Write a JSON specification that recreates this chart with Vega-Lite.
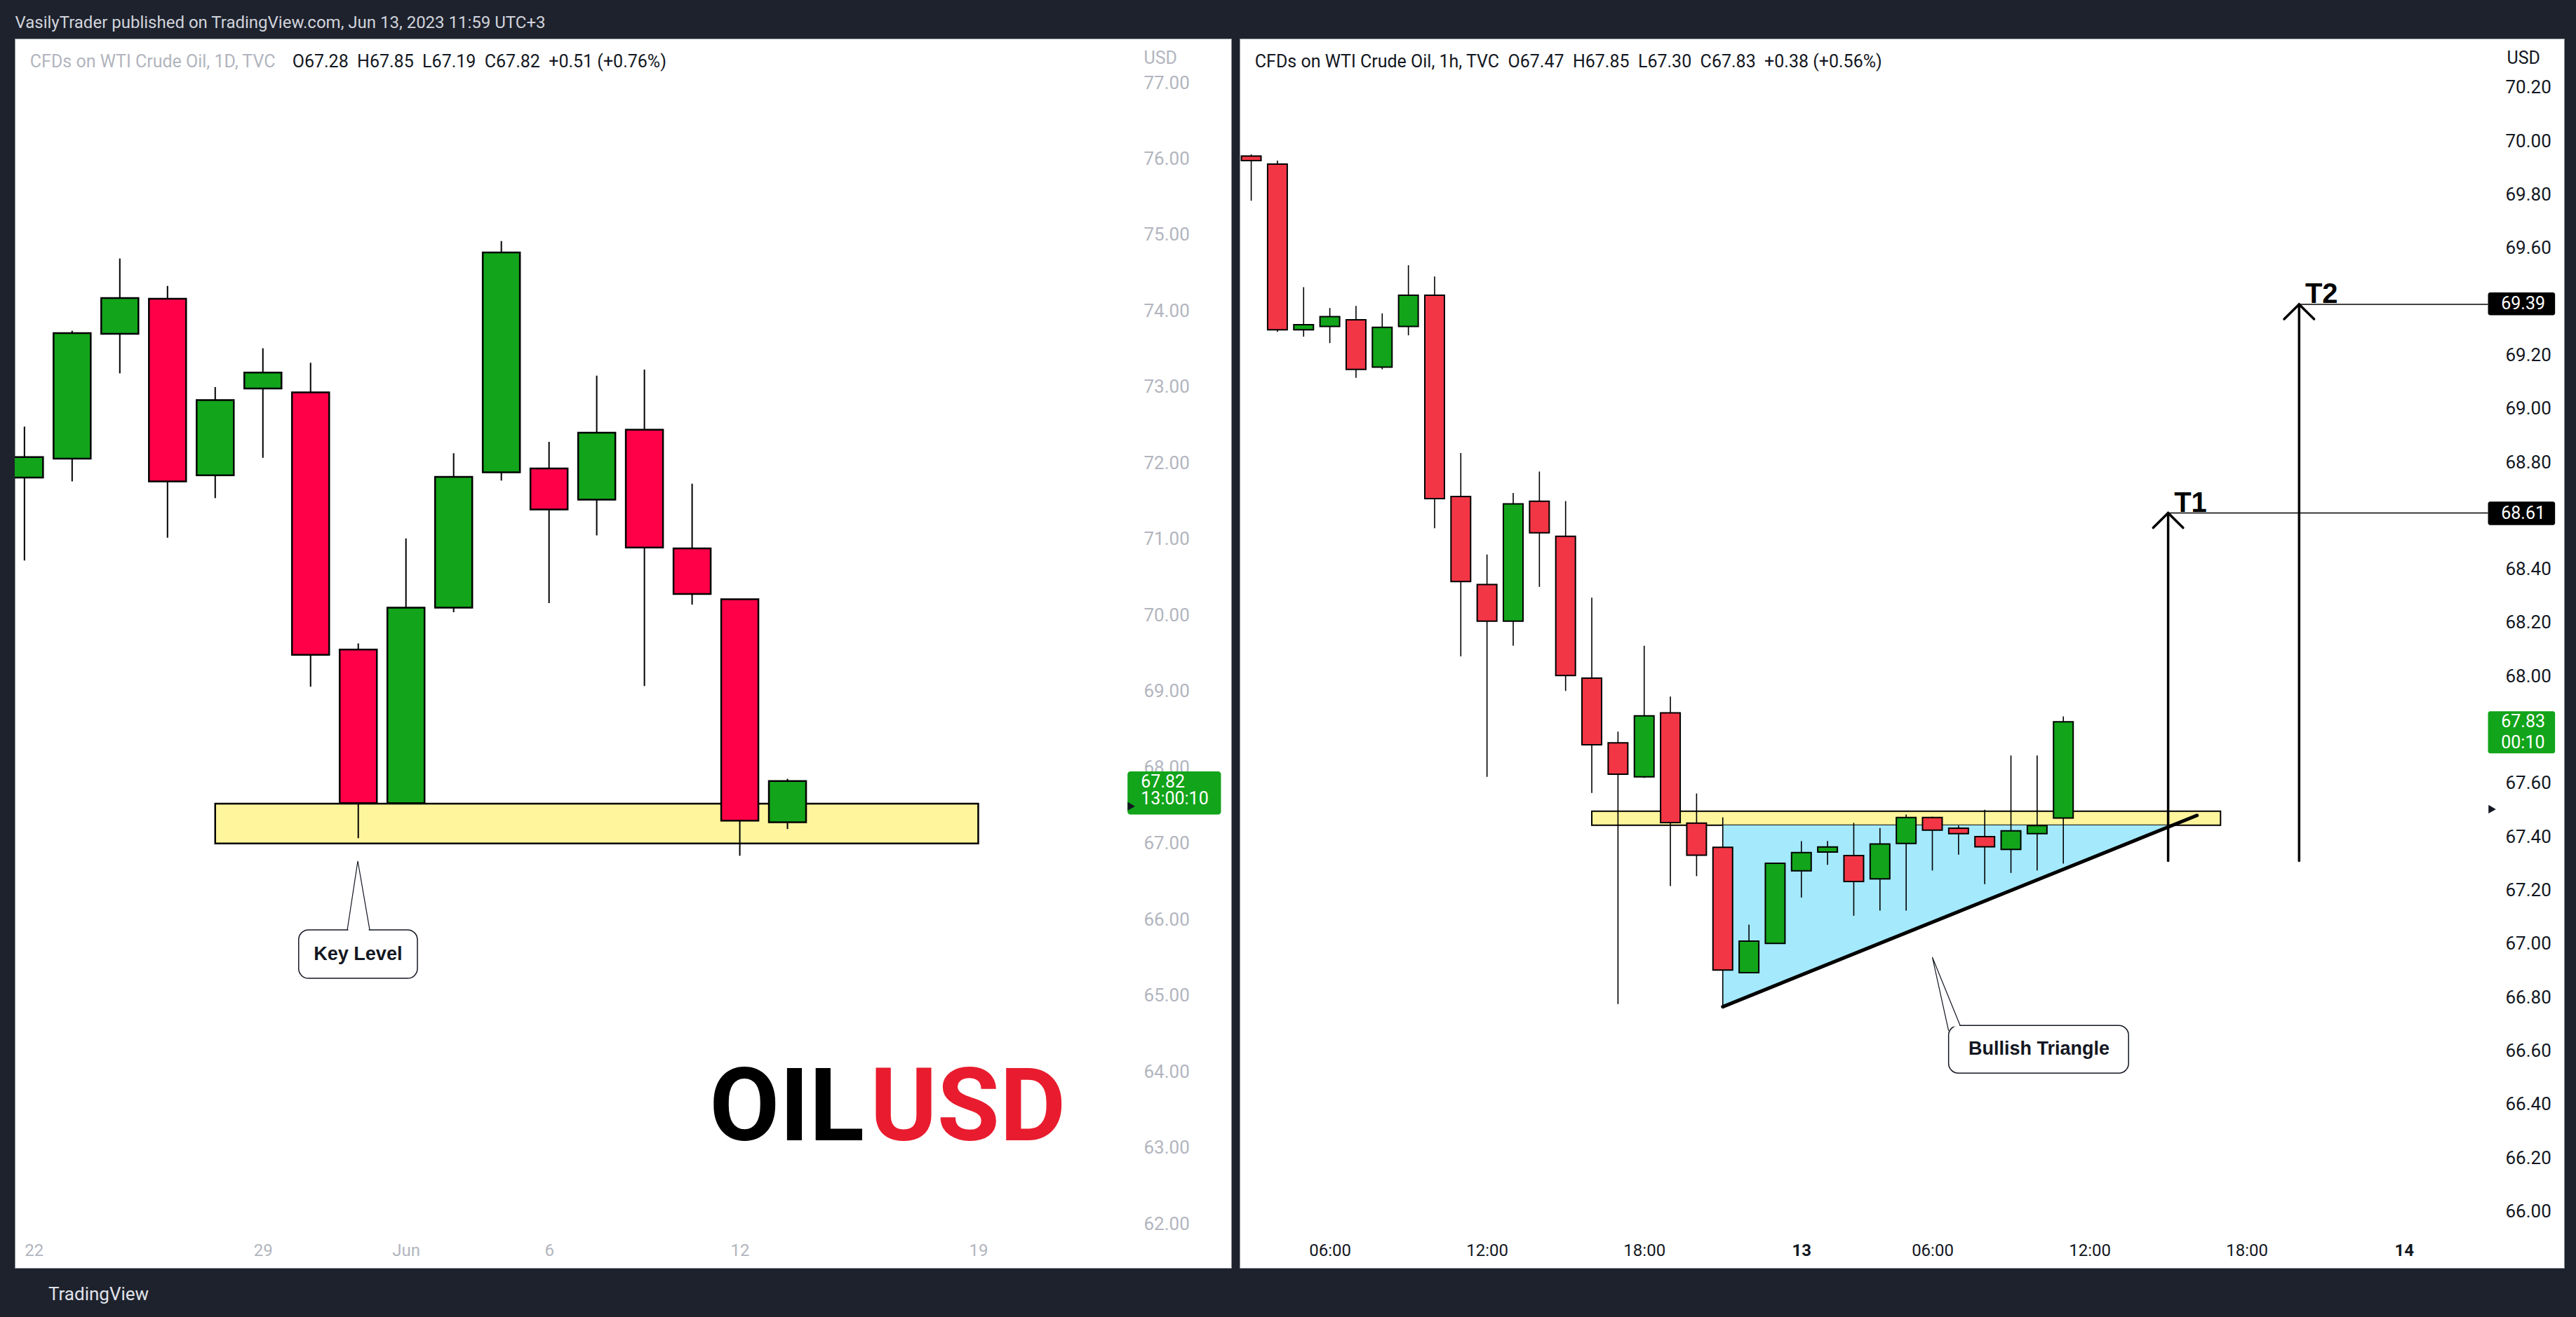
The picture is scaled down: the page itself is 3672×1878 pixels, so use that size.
{
"$schema":"https://vega.github.io/schema/vega-lite/v6.json",
"background":"#1e222d",
"padding":{"left":20,"top":20,"right":20,"bottom":20},
"spacing":10,
"title":{"text":"VasilyTrader published on TradingView.com, Jun 13, 2023 11:59 UTC+3","anchor":"start","frame":"bounds","offset":10,"fontSize":24,"fontWeight":"normal","color":"#d1d4dc","font":"Roboto","dx":1},
"config":{"view":{"fill":"#ffffff","stroke":"#8c8f99","strokeWidth":1},"axis":{"labelFont":"Roboto","titleFont":"Roboto","domain":false,"ticks":false,"tickSize":0,"grid":false,"labelPadding":0,"labelOverlap":false,"labelFlush":false},"text":{"font":"Roboto"}},
"datasets":{
"daily":[
{"i":0,"o":71.81,"h":72.48,"l":70.72,"c":72.08},
{"i":1,"o":72.06,"h":73.74,"l":71.76,"c":73.71},
{"i":2,"o":73.70,"h":74.69,"l":73.18,"c":74.17},
{"i":3,"o":74.16,"h":74.33,"l":71.02,"c":71.76},
{"i":4,"o":71.84,"h":73.00,"l":71.54,"c":72.83},
{"i":5,"o":72.98,"h":73.51,"l":72.07,"c":73.19},
{"i":6,"o":72.93,"h":73.32,"l":69.06,"c":69.48},
{"i":7,"o":69.55,"h":69.63,"l":67.07,"c":67.53},
{"i":8,"o":67.53,"h":71.01,"l":67.52,"c":70.10},
{"i":9,"o":70.10,"h":72.13,"l":70.04,"c":71.82},
{"i":10,"o":71.88,"h":74.92,"l":71.77,"c":74.77},
{"i":11,"o":71.93,"h":72.28,"l":70.16,"c":71.39},
{"i":12,"o":71.52,"h":73.15,"l":71.05,"c":72.40},
{"i":13,"o":72.44,"h":73.23,"l":69.07,"c":70.89},
{"i":14,"o":70.88,"h":71.73,"l":70.14,"c":70.28},
{"i":15,"o":70.21,"h":70.21,"l":66.84,"c":67.30},
{"i":16,"o":67.28,"h":67.85,"l":67.19,"c":67.82}
],
"hourly":[
{"i":0,"o":69.944,"h":69.95,"l":69.777,"c":69.927},
{"i":1,"o":69.914,"h":69.927,"l":69.287,"c":69.295},
{"i":2,"o":69.295,"h":69.454,"l":69.269,"c":69.314},
{"i":3,"o":69.307,"h":69.376,"l":69.245,"c":69.344},
{"i":4,"o":69.332,"h":69.384,"l":69.115,"c":69.147},
{"i":5,"o":69.155,"h":69.356,"l":69.147,"c":69.304},
{"i":6,"o":69.307,"h":69.536,"l":69.274,"c":69.424},
{"i":7,"o":69.424,"h":69.494,"l":68.553,"c":68.664},
{"i":8,"o":68.672,"h":68.834,"l":68.074,"c":68.354},
{"i":9,"o":68.343,"h":68.455,"l":67.624,"c":68.206},
{"i":10,"o":68.206,"h":68.685,"l":68.114,"c":68.644},
{"i":11,"o":68.654,"h":68.765,"l":68.334,"c":68.536},
{"i":12,"o":68.523,"h":68.655,"l":67.945,"c":68.003},
{"i":13,"o":67.993,"h":68.294,"l":67.564,"c":67.744},
{"i":14,"o":67.751,"h":67.793,"l":66.775,"c":67.634},
{"i":15,"o":67.624,"h":68.114,"l":67.62,"c":67.852},
{"i":16,"o":67.863,"h":67.924,"l":67.216,"c":67.453},
{"i":17,"o":67.451,"h":67.562,"l":67.253,"c":67.331},
{"i":18,"o":67.361,"h":67.473,"l":66.764,"c":66.902},
{"i":19,"o":66.892,"h":67.072,"l":66.89,"c":67.010},
{"i":20,"o":67.002,"h":67.301,"l":67.0,"c":67.301},
{"i":21,"o":67.273,"h":67.384,"l":67.173,"c":67.341},
{"i":22,"o":67.343,"h":67.384,"l":67.295,"c":67.362},
{"i":23,"o":67.330,"h":67.452,"l":67.105,"c":67.233},
{"i":24,"o":67.243,"h":67.433,"l":67.124,"c":67.373},
{"i":25,"o":67.375,"h":67.483,"l":67.124,"c":67.472},
{"i":26,"o":67.472,"h":67.475,"l":67.274,"c":67.425},
{"i":27,"o":67.432,"h":67.442,"l":67.333,"c":67.412},
{"i":28,"o":67.401,"h":67.501,"l":67.223,"c":67.363},
{"i":29,"o":67.353,"h":67.704,"l":67.265,"c":67.422},
{"i":30,"o":67.412,"h":67.704,"l":67.274,"c":67.442},
{"i":31,"o":67.47,"h":67.85,"l":67.30,"c":67.83}
]
},
"hconcat":[
{
"width":1734,"height":1753,
"title":{"text":"TradingView","orient":"bottom","anchor":"start","offset":25,"dx":48,"fontSize":26,"fontWeight":"normal","color":"#e0e3eb","font":"Roboto"},
"layer":[
{"data":{"values":[{"i0":4,"i1":20,"lo":67.0,"hi":67.524}]},
 "mark":{"type":"rect","fill":"#fff59d","stroke":"#000000","strokeWidth":2.5},
 "encoding":{
  "x":{"field":"i0","type":"quantitative","scale":{"domain":[-0.13,25.23],"nice":false,"zero":false},"title":null,
   "axis":{"orient":"bottom","offset":-25,"values":[0,5,8,11,15,20],"labelExpr":"datum.value==0?'22':datum.value==5?'29':datum.value==8?'Jun':datum.value==11?'6':datum.value==15?'12':'19'","labelColor":"#b2b5be","labelFontSize":24,"labelBaseline":"middle","labelAlign":{"condition":{"test":"datum.value==0","value":"left"},"value":"center"}}},
  "x2":{"field":"i1"},
  "y":{"field":"lo","type":"quantitative","scale":{"domain":[61.421,77.581],"nice":false,"zero":false},"title":"USD",
   "axis":{"orient":"right","offset":-125,"values":[62,63,64,65,66,67,68,69,70,71,72,73,74,75,76,77],"format":".2f","labelColor":"#b2b5be","labelFontSize":26,"labelAlign":"left","labelBaseline":"middle","titleAngle":0,"titleAlign":"left","titleBaseline":"alphabetic","titleX":0,"titleY":35,"titleColor":"#b2b5be","titleFontSize":25,"titleFontWeight":"normal"}},
  "y2":{"field":"hi"}}},
{"data":{"name":"daily"},
 "mark":{"type":"rule","stroke":"#000000","strokeWidth":2,"clip":true},
 "encoding":{"x":{"field":"i","type":"quantitative","scale":{"domain":[-0.13,25.23],"nice":false,"zero":false},"title":null},
  "y":{"field":"l","type":"quantitative","scale":{"domain":[61.421,77.581],"nice":false,"zero":false},"title":"USD"},
  "y2":{"field":"h"}}},
{"data":{"name":"daily"},
 "mark":{"type":"bar","width":53,"stroke":"#000000","strokeWidth":2.5,"clip":true},
 "encoding":{"x":{"field":"i","type":"quantitative","scale":{"domain":[-0.13,25.23],"nice":false,"zero":false},"title":null},
  "y":{"field":"o","type":"quantitative","scale":{"domain":[61.421,77.581],"nice":false,"zero":false},"title":"USD"},
  "y2":{"field":"c"},
  "fill":{"condition":{"test":"datum.c >= datum.o","value":"#12a41a"},"value":"#ff0048"}}},
{"data":{"values":[{"i0":5.75,"i1":8.24,"lo":65.228,"hi":65.864}]},
 "mark":{"type":"rect","fill":"#ffffff","stroke":"#131722","strokeWidth":1.5,"cornerRadius":14},
 "encoding":{"x":{"field":"i0","type":"quantitative","scale":{"domain":[-0.13,25.23],"nice":false,"zero":false},"title":null},"x2":{"field":"i1"},
  "y":{"field":"lo","type":"quantitative","scale":{"domain":[61.421,77.581],"nice":false,"zero":false},"title":"USD"},"y2":{"field":"hi"}}},
{"data":{"values":[{"i0":6.79,"i1":7.22,"p":65.864}]},
 "mark":{"type":"rule","stroke":"#ffffff","strokeWidth":3},
 "encoding":{"x":{"field":"i0","type":"quantitative","scale":{"domain":[-0.13,25.23],"nice":false,"zero":false},"title":null},"x2":{"field":"i1"},
  "y":{"field":"p","type":"quantitative","scale":{"domain":[61.421,77.581],"nice":false,"zero":false},"title":"USD"}}},
{"data":{"values":[{"k":0,"i":6.77,"p":65.864},{"k":1,"i":6.99,"p":66.77},{"k":2,"i":7.24,"p":65.864}]},
 "mark":{"type":"line","stroke":"#131722","strokeWidth":1.2},
 "encoding":{"x":{"field":"i","type":"quantitative","scale":{"domain":[-0.13,25.23],"nice":false,"zero":false},"title":null},
  "y":{"field":"p","type":"quantitative","scale":{"domain":[61.421,77.581],"nice":false,"zero":false},"title":"USD"},
  "order":{"field":"k"}}},
{"data":{"values":[{"i":6.995,"p":65.546,"t":"Key Level"}]},
 "mark":{"type":"text","font":"Liberation Sans","fontWeight":"bold","fontSize":27,"color":"#131722","align":"center","baseline":"middle"},
 "encoding":{"x":{"field":"i","type":"quantitative","scale":{"domain":[-0.13,25.23],"nice":false,"zero":false},"title":null},
  "y":{"field":"p","type":"quantitative","scale":{"domain":[61.421,77.581],"nice":false,"zero":false},"title":"USD"},
  "text":{"field":"t"}}},
{"data":{"values":[{"i":17.61,"p":63.1,"t":"OIL"}]},
 "mark":{"type":"text","font":"Roboto","fontWeight":"bold","fontSize":145,"color":"#000000","align":"right","baseline":"alphabetic"},
 "encoding":{"x":{"field":"i","type":"quantitative","scale":{"domain":[-0.13,25.23],"nice":false,"zero":false},"title":null},
  "y":{"field":"p","type":"quantitative","scale":{"domain":[61.421,77.581],"nice":false,"zero":false},"title":"USD"},
  "text":{"field":"t"}}},
{"data":{"values":[{"i":17.73,"p":63.1,"t":"USD"}]},
 "mark":{"type":"text","font":"Roboto","fontWeight":"bold","fontSize":145,"color":"#e81c2e","align":"left","baseline":"alphabetic"},
 "encoding":{"x":{"field":"i","type":"quantitative","scale":{"domain":[-0.13,25.23],"nice":false,"zero":false},"title":null},
  "y":{"field":"p","type":"quantitative","scale":{"domain":[61.421,77.581],"nice":false,"zero":false},"title":"USD"},
  "text":{"field":"t"}}},
{"data":{"values":[{"i":0.117,"p":77.203,"t":"CFDs on WTI Crude Oil, 1D, TVC"}]},
 "mark":{"type":"text","fontSize":25,"color":"#b2b5be","align":"left","baseline":"alphabetic"},
 "encoding":{"x":{"field":"i","type":"quantitative","scale":{"domain":[-0.13,25.23],"nice":false,"zero":false},"title":null},
  "y":{"field":"p","type":"quantitative","scale":{"domain":[61.421,77.581],"nice":false,"zero":false},"title":"USD"},
  "text":{"field":"t"}}},
{"data":{"values":[{"i":5.617,"p":77.203,"t":"O67.28\u00a0 H67.85\u00a0 L67.19\u00a0 C67.82\u00a0 +0.51 (+0.76%)"}]},
 "mark":{"type":"text","fontSize":25,"color":"#131722","align":"left","baseline":"alphabetic"},
 "encoding":{"x":{"field":"i","type":"quantitative","scale":{"domain":[-0.13,25.23],"nice":false,"zero":false},"title":null},
  "y":{"field":"p","type":"quantitative","scale":{"domain":[61.421,77.581],"nice":false,"zero":false},"title":"USD"},
  "text":{"field":"t"}}},
{"data":{"values":[{"i0":23.13,"i1":25.09,"lo":67.381,"hi":67.948}]},
 "mark":{"type":"rect","fill":"#12a41a","cornerRadius":4},
 "encoding":{"x":{"field":"i0","type":"quantitative","scale":{"domain":[-0.13,25.23],"nice":false,"zero":false},"title":null},"x2":{"field":"i1"},
  "y":{"field":"lo","type":"quantitative","scale":{"domain":[61.421,77.581],"nice":false,"zero":false},"title":"USD"},"y2":{"field":"hi"}}},
{"data":{"values":[{"i":23.41,"p":67.81,"t":"67.82"},{"i":23.41,"p":67.588,"t":"13:00:10"}]},
 "mark":{"type":"text","fontSize":25,"color":"#ffffff","align":"left","baseline":"middle"},
 "encoding":{"x":{"field":"i","type":"quantitative","scale":{"domain":[-0.13,25.23],"nice":false,"zero":false},"title":null},
  "y":{"field":"p","type":"quantitative","scale":{"domain":[61.421,77.581],"nice":false,"zero":false},"title":"USD"},
  "text":{"field":"t"}}},
{"data":{"values":[{"i":23.21,"p":67.49}]},
 "mark":{"type":"point","shape":"triangle-right","size":150,"filled":true,"color":"#131722","opacity":1},
 "encoding":{"x":{"field":"i","type":"quantitative","scale":{"domain":[-0.13,25.23],"nice":false,"zero":false},"title":null},
  "y":{"field":"p","type":"quantitative","scale":{"domain":[61.421,77.581],"nice":false,"zero":false},"title":"USD"}}}
]
},
{
"width":1888,"height":1753,
"layer":[
{"data":{"values":[{"i0":13,"i1":37,"lo":67.443,"hi":67.496}]},
 "mark":{"type":"rect","fill":"#fff59d","stroke":"#000000","strokeWidth":2},
 "encoding":{
  "x":{"field":"i0","type":"quantitative","scale":{"domain":[-0.31,49.98],"nice":false,"zero":false},"title":null,
   "axis":{"orient":"bottom","offset":-25,"values":[3,9,15,21,26,32,38,44],"labelExpr":"datum.value==21?'13':datum.value==44?'14':(datum.value==3||datum.value==26)?'06:00':(datum.value==9||datum.value==32)?'12:00':'18:00'","labelColor":"#131722","labelFontSize":24,"labelBaseline":"middle","labelFontWeight":{"condition":{"test":"datum.value==21||datum.value==44","value":"bold"},"value":"normal"}}},
  "x2":{"field":"i1"},
  "y":{"field":"lo","type":"quantitative","scale":{"domain":[65.789,70.383],"nice":false,"zero":false},"title":"USD",
   "axis":{"orient":"right","offset":-84,"values":[66,66.2,66.4,66.6,66.8,67,67.2,67.4,67.6,68,68.2,68.4,68.8,69,69.2,69.6,69.8,70,70.2],"format":".2f","labelColor":"#131722","labelFontSize":26,"labelAlign":"left","labelBaseline":"middle","titleAngle":0,"titleAlign":"left","titleBaseline":"alphabetic","titleX":2,"titleY":35,"titleColor":"#131722","titleFontSize":25,"titleFontWeight":"normal"}},
  "y2":{"field":"hi"}}},
{"data":{"values":[{"i":18,"lo":66.765,"hi":67.443},{"i":35,"lo":67.443,"hi":67.443}]},
 "mark":{"type":"area","fill":"#a5e9fc","opacity":1},
 "encoding":{"x":{"field":"i","type":"quantitative","scale":{"domain":[-0.31,49.98],"nice":false,"zero":false},"title":null},
  "y":{"field":"lo","type":"quantitative","scale":{"domain":[65.789,70.383],"nice":false,"zero":false},"title":"USD"},
  "y2":{"field":"hi"}}},
{"data":{"name":"hourly"},
 "mark":{"type":"rule","stroke":"#000000","strokeWidth":1.6,"clip":true},
 "encoding":{"x":{"field":"i","type":"quantitative","scale":{"domain":[-0.31,49.98],"nice":false,"zero":false},"title":null},
  "y":{"field":"l","type":"quantitative","scale":{"domain":[65.789,70.383],"nice":false,"zero":false},"title":"USD"},
  "y2":{"field":"h"}}},
{"data":{"name":"hourly"},
 "mark":{"type":"bar","width":28,"stroke":"#000000","strokeWidth":2,"clip":true},
 "encoding":{"x":{"field":"i","type":"quantitative","scale":{"domain":[-0.31,49.98],"nice":false,"zero":false},"title":null},
  "y":{"field":"o","type":"quantitative","scale":{"domain":[65.789,70.383],"nice":false,"zero":false},"title":"USD"},
  "y2":{"field":"c"},
  "fill":{"condition":{"test":"datum.c >= datum.o","value":"#12a41a"},"value":"#f23645"}}},
{"data":{"values":[{"i":18,"p":66.765},{"i":36.1,"p":67.48}]},
 "mark":{"type":"line","stroke":"#000000","strokeWidth":5,"strokeCap":"round"},
 "encoding":{"x":{"field":"i","type":"quantitative","scale":{"domain":[-0.31,49.98],"nice":false,"zero":false},"title":null},
  "y":{"field":"p","type":"quantitative","scale":{"domain":[65.789,70.383],"nice":false,"zero":false},"title":"USD"}}},
{"data":{"values":[
  {"s":"a","k":0,"i":35,"p":67.31},{"s":"a","k":1,"i":35,"p":68.61},
  {"s":"b","k":0,"i":34.43,"p":68.555},{"s":"b","k":1,"i":35,"p":68.61},{"s":"b","k":2,"i":35.57,"p":68.555},
  {"s":"c","k":0,"i":40,"p":67.31},{"s":"c","k":1,"i":40,"p":69.39},
  {"s":"d","k":0,"i":39.43,"p":69.335},{"s":"d","k":1,"i":40,"p":69.39},{"s":"d","k":2,"i":40.57,"p":69.335}]},
 "mark":{"type":"line","stroke":"#000000","strokeWidth":3.5,"strokeCap":"round"},
 "encoding":{"x":{"field":"i","type":"quantitative","scale":{"domain":[-0.31,49.98],"nice":false,"zero":false},"title":null},
  "y":{"field":"p","type":"quantitative","scale":{"domain":[65.789,70.383],"nice":false,"zero":false},"title":"USD"},
  "detail":{"field":"s"},"order":{"field":"k"}}},
{"data":{"values":[{"i0":35,"i1":47.21,"p":68.61},{"i0":40,"i1":47.21,"p":69.39}]},
 "mark":{"type":"rule","stroke":"#000000","strokeWidth":1.5},
 "encoding":{"x":{"field":"i0","type":"quantitative","scale":{"domain":[-0.31,49.98],"nice":false,"zero":false},"title":null},"x2":{"field":"i1"},
  "y":{"field":"p","type":"quantitative","scale":{"domain":[65.789,70.383],"nice":false,"zero":false},"title":"USD"}}},
{"data":{"values":[{"i":35.23,"p":68.614,"t":"T1"},{"i":40.23,"p":69.396,"t":"T2"}]},
 "mark":{"type":"text","font":"Liberation Sans","fontWeight":"bold","fontSize":40,"color":"#000000","align":"left","baseline":"alphabetic"},
 "encoding":{"x":{"field":"i","type":"quantitative","scale":{"domain":[-0.31,49.98],"nice":false,"zero":false},"title":null},
  "y":{"field":"p","type":"quantitative","scale":{"domain":[65.789,70.383],"nice":false,"zero":false},"title":"USD"},
  "text":{"field":"t"}}},
{"data":{"values":[{"i0":26.62,"i1":33.49,"lo":66.517,"hi":66.695}]},
 "mark":{"type":"rect","fill":"#ffffff","stroke":"#131722","strokeWidth":1.5,"cornerRadius":14},
 "encoding":{"x":{"field":"i0","type":"quantitative","scale":{"domain":[-0.31,49.98],"nice":false,"zero":false},"title":null},"x2":{"field":"i1"},
  "y":{"field":"lo","type":"quantitative","scale":{"domain":[65.789,70.383],"nice":false,"zero":false},"title":"USD"},"y2":{"field":"hi"}}},
{"data":{"values":[{"i0":26.6,"i1":27.04,"p":66.695}]},
 "mark":{"type":"rule","stroke":"#ffffff","strokeWidth":3},
 "encoding":{"x":{"field":"i0","type":"quantitative","scale":{"domain":[-0.31,49.98],"nice":false,"zero":false},"title":null},"x2":{"field":"i1"},
  "y":{"field":"p","type":"quantitative","scale":{"domain":[65.789,70.383],"nice":false,"zero":false},"title":"USD"}}},
{"data":{"values":[{"k":0,"i":26.62,"p":66.675},{"k":1,"i":26.0,"p":66.95},{"k":2,"i":27.06,"p":66.695}]},
 "mark":{"type":"line","stroke":"#131722","strokeWidth":1.2},
 "encoding":{"x":{"field":"i","type":"quantitative","scale":{"domain":[-0.31,49.98],"nice":false,"zero":false},"title":null},
  "y":{"field":"p","type":"quantitative","scale":{"domain":[65.789,70.383],"nice":false,"zero":false},"title":"USD"},
  "order":{"field":"k"}}},
{"data":{"values":[{"i":30.07,"p":66.606,"t":"Bullish Triangle"}]},
 "mark":{"type":"text","font":"Liberation Sans","fontWeight":"bold","fontSize":27,"color":"#131722","align":"center","baseline":"middle"},
 "encoding":{"x":{"field":"i","type":"quantitative","scale":{"domain":[-0.31,49.98],"nice":false,"zero":false},"title":null},
  "y":{"field":"p","type":"quantitative","scale":{"domain":[65.789,70.383],"nice":false,"zero":false},"title":"USD"},
  "text":{"field":"t"}}},
{"data":{"values":[{"i":0.141,"p":70.275,"t":"CFDs on WTI Crude Oil, 1h, TVC\u00a0 O67.47\u00a0 H67.85\u00a0 L67.30\u00a0 C67.83\u00a0 +0.38 (+0.56%)"}]},
 "mark":{"type":"text","fontSize":25,"color":"#131722","align":"left","baseline":"alphabetic"},
 "encoding":{"x":{"field":"i","type":"quantitative","scale":{"domain":[-0.31,49.98],"nice":false,"zero":false},"title":null},
  "y":{"field":"p","type":"quantitative","scale":{"domain":[65.789,70.383],"nice":false,"zero":false},"title":"USD"},
  "text":{"field":"t"}}},
{"data":{"values":[{"i0":47.21,"i1":49.77,"lo":69.349,"hi":69.434},{"i0":47.21,"i1":49.77,"lo":68.565,"hi":68.653}]},
 "mark":{"type":"rect","fill":"#000000","cornerRadius":3},
 "encoding":{"x":{"field":"i0","type":"quantitative","scale":{"domain":[-0.31,49.98],"nice":false,"zero":false},"title":null},"x2":{"field":"i1"},
  "y":{"field":"lo","type":"quantitative","scale":{"domain":[65.789,70.383],"nice":false,"zero":false},"title":"USD"},"y2":{"field":"hi"}}},
{"data":{"values":[{"i0":47.21,"i1":49.77,"lo":67.712,"hi":67.869}]},
 "mark":{"type":"rect","fill":"#12a41a","cornerRadius":3},
 "encoding":{"x":{"field":"i0","type":"quantitative","scale":{"domain":[-0.31,49.98],"nice":false,"zero":false},"title":null},"x2":{"field":"i1"},
  "y":{"field":"lo","type":"quantitative","scale":{"domain":[65.789,70.383],"nice":false,"zero":false},"title":"USD"},"y2":{"field":"hi"}}},
{"data":{"values":[{"i":47.71,"p":69.392,"t":"69.39"},{"i":47.71,"p":68.609,"t":"68.61"},{"i":47.71,"p":67.83,"t":"67.83"},{"i":47.71,"p":67.751,"t":"00:10"}]},
 "mark":{"type":"text","fontSize":25,"color":"#ffffff","align":"left","baseline":"middle"},
 "encoding":{"x":{"field":"i","type":"quantitative","scale":{"domain":[-0.31,49.98],"nice":false,"zero":false},"title":null},
  "y":{"field":"p","type":"quantitative","scale":{"domain":[65.789,70.383],"nice":false,"zero":false},"title":"USD"},
  "text":{"field":"t"}}},
{"data":{"values":[{"i":47.37,"p":67.503}]},
 "mark":{"type":"point","shape":"triangle-right","size":150,"filled":true,"color":"#131722","opacity":1},
 "encoding":{"x":{"field":"i","type":"quantitative","scale":{"domain":[-0.31,49.98],"nice":false,"zero":false},"title":null},
  "y":{"field":"p","type":"quantitative","scale":{"domain":[65.789,70.383],"nice":false,"zero":false},"title":"USD"}}}
]
}
]
}
